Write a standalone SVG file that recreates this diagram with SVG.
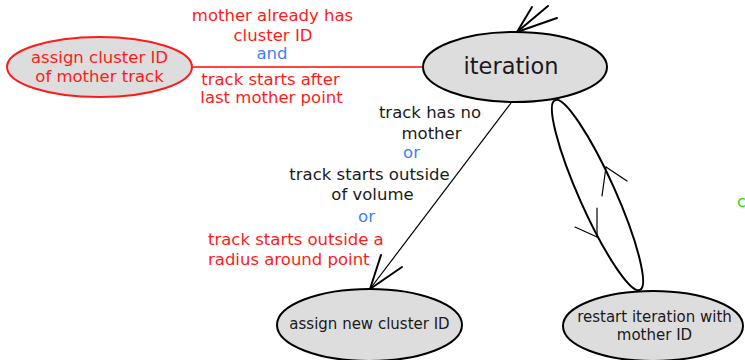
<svg xmlns="http://www.w3.org/2000/svg" width="745" height="360" viewBox="0 0 745 360">
  <style>
    text { font-family: "DejaVu Sans", Verdana, sans-serif; text-anchor: middle; }
    .node { fill: #dddddd; stroke: #000; stroke-width: 2; }
    .node-red { fill: #dddddd; stroke: #ff1a1a; stroke-width: 2; }
    .lbl { font-size: 16.5px; fill: #1a1a1a; }
    .red { fill: #ff1a1a; }
    .blue { fill: #3d7eff; }
    .green { fill: #22dd22; }
    .ntext { font-size: 15px; fill: #1a1a1a; }
    .edge { fill: none; stroke: #000; stroke-width: 1.2; }
    .loop { fill: none; stroke: #000; stroke-width: 2; }
    .head { fill: none; stroke: #000; stroke-width: 2; stroke-linecap: round; }
    .thinhead { fill: none; stroke: #000; stroke-width: 1.2; stroke-linecap: round; }
  </style>

  <!-- connectors -->
  <g id="connectors">
    <!-- mother link -->
    <line x1="192" y1="67" x2="424" y2="67" stroke="#ff4444" stroke-width="2"/>

    <!-- incoming arrow at top of iteration -->
    <g class="head">
      <line x1="517" y1="32" x2="532" y2="7"/>
      <line x1="517" y1="32" x2="548" y2="6"/>
      <line x1="517" y1="32" x2="557" y2="18"/>
    </g>

    <!-- iteration to new cluster ID -->
    <line class="edge" x1="511" y1="103" x2="370" y2="289"/>
    <g class="head">
      <line x1="370" y1="289" x2="381" y2="255"/>
      <line x1="370" y1="289" x2="402" y2="267"/>
    </g>

    <!-- loop between iteration and restart -->
    <ellipse class="loop" cx="597.5" cy="195" rx="104" ry="18" transform="rotate(65.9 597.5 195)"/>
    <g class="thinhead">
      <line x1="597" y1="237" x2="597" y2="208"/>
      <line x1="597" y1="237" x2="575" y2="227"/>
      <line x1="606" y1="167" x2="602" y2="196"/>
      <line x1="606" y1="167" x2="627" y2="181"/>
    </g>
  </g>

  <!-- edge labels -->
  <g id="labels" class="lbl">
    <text class="red" x="272.5" y="21">mother already has</text>
    <text class="red" x="273" y="41">cluster ID</text>
    <text class="blue" x="272" y="59">and</text>
    <text class="red" x="270.5" y="85">track starts after</text>
    <text class="red" x="271.5" y="103">last mother point</text>

    <text x="430" y="118">track has no</text>
    <text x="431.5" y="139">mother</text>
    <text class="blue" x="411.5" y="158">or</text>
    <text x="369.5" y="180">track starts outside</text>
    <text x="372.5" y="200">of volume</text>
    <text class="blue" x="366.5" y="222">or</text>
    <text class="red" x="208" y="245" style="text-anchor:start">track starts outside a</text>
    <text class="red" x="208" y="265" style="text-anchor:start">radius around point</text>

    <text class="green" x="737" y="207" style="text-anchor:start">c</text>
  </g>

  <g id="assign-mother">
    <ellipse class="node-red" cx="99.5" cy="67" rx="92.5" ry="30"/>
    <text class="red" x="99.5" y="63" style="font-size:16.5px">assign cluster ID</text>
    <text class="red" x="99.5" y="82" style="font-size:16.5px">of mother track</text>
  </g>

  <g id="iteration">
    <ellipse class="node" cx="515" cy="67" rx="92" ry="35"/>
    <text x="511" y="74" style="font-size:22.5px;fill:#1a1a1a">iteration</text>
  </g>

  <g id="assign-new">
    <ellipse class="node" cx="369.5" cy="325" rx="92.5" ry="36"/>
    <text class="ntext" x="369.5" y="329">assign new cluster ID</text>
  </g>

  <g id="restart">
    <ellipse class="node" cx="653" cy="326" rx="90" ry="35"/>
    <text class="ntext" x="654.5" y="322">restart iteration with</text>
    <text class="ntext" x="654.5" y="340">mother ID</text>
  </g>
</svg>
